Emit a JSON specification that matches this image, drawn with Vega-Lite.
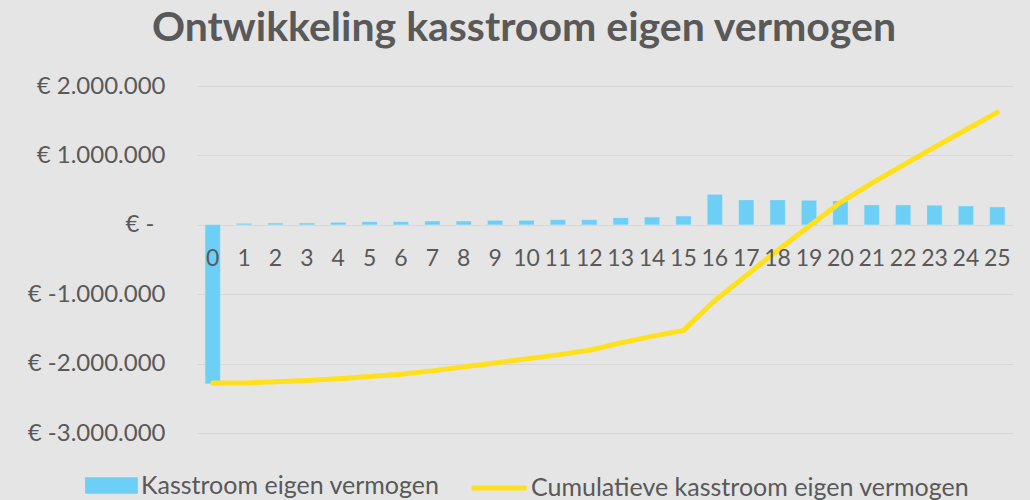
{
  "$schema": "https://vega.github.io/schema/vega-lite/v6.json",
  "autosize": "none",
  "width": 816,
  "height": 347,
  "padding": {"left": 197, "top": 86, "right": 17, "bottom": 67},
  "background": "#E5E5E5",
  "config": {
    "view": {"stroke": null},
    "font": "Lato"
  },
  "title": {
    "text": "Ontwikkeling kasstroom eigen vermogen",
    "font": "Lato",
    "fontSize": 41,
    "fontWeight": "bold",
    "color": "#595959",
    "anchor": "middle",
    "dx": -81,
    "offset": 24
  },
  "data": {
    "values": [
      {"jaar": 0, "kasstroom": -2290000, "cumulatief": -2280000},
      {"jaar": 1, "kasstroom": 19000, "cumulatief": -2278000},
      {"jaar": 2, "kasstroom": 24000, "cumulatief": -2263000},
      {"jaar": 3, "kasstroom": 24000, "cumulatief": -2245000},
      {"jaar": 4, "kasstroom": 34000, "cumulatief": -2220000},
      {"jaar": 5, "kasstroom": 43000, "cumulatief": -2187000},
      {"jaar": 6, "kasstroom": 43000, "cumulatief": -2154000},
      {"jaar": 7, "kasstroom": 53000, "cumulatief": -2105000},
      {"jaar": 8, "kasstroom": 53000, "cumulatief": -2047000},
      {"jaar": 9, "kasstroom": 62000, "cumulatief": -1990000},
      {"jaar": 10, "kasstroom": 63000, "cumulatief": -1932000},
      {"jaar": 11, "kasstroom": 72000, "cumulatief": -1874000},
      {"jaar": 12, "kasstroom": 72000, "cumulatief": -1808000},
      {"jaar": 13, "kasstroom": 100000, "cumulatief": -1702000},
      {"jaar": 14, "kasstroom": 110000, "cumulatief": -1607000},
      {"jaar": 15, "kasstroom": 125000, "cumulatief": -1521000},
      {"jaar": 16, "kasstroom": 435000, "cumulatief": -1090000},
      {"jaar": 17, "kasstroom": 357000, "cumulatief": -730000},
      {"jaar": 18, "kasstroom": 357000, "cumulatief": -370000},
      {"jaar": 19, "kasstroom": 352000, "cumulatief": -20000},
      {"jaar": 20, "kasstroom": 343000, "cumulatief": 320000},
      {"jaar": 21, "kasstroom": 285000, "cumulatief": 600000},
      {"jaar": 22, "kasstroom": 285000, "cumulatief": 860000},
      {"jaar": 23, "kasstroom": 280000, "cumulatief": 1120000},
      {"jaar": 24, "kasstroom": 270000, "cumulatief": 1370000},
      {"jaar": 25, "kasstroom": 256000, "cumulatief": 1620000}
    ]
  },
  "encoding": {
    "x": {
      "field": "jaar",
      "type": "ordinal",
      "scale": {"paddingInner": 0.52, "paddingOuter": 0.26},
      "axis": {
        "title": null,
        "orient": "bottom",
        "offset": -208,
        "zindex": 1,
        "domain": false,
        "ticks": false,
        "labelAngle": 0,
        "labelFont": "Lato",
        "labelFontSize": 23,
        "labelColor": "#595959",
        "labelPadding": 22,
        "grid": false
      }
    }
  },
  "layer": [
    {
      "mark": {"type": "bar", "stroke": "#C9E6F2", "strokeWidth": 0.5, "strokeOpacity": 0.6},
      "encoding": {
        "y": {
          "field": "kasstroom",
          "type": "quantitative",
          "scale": {"domain": [-3000000, 2000000], "nice": false, "zero": false},
          "axis": {
            "title": null,
            "values": [-3000000, -2000000, -1000000, 0, 1000000, 2000000],
            "domain": false,
            "ticks": false,
            "grid": true,
            "gridColor": "#D8D8D8",
            "gridWidth": 1.2,
            "labelFont": "Lato",
            "labelFontSize": 24,
            "labelColor": "#595959",
            "labelPadding": {"condition": {"test": "datum.value === 0", "value": 43}, "value": 32},
            "labelExpr": "datum.value === 0 ? '€ -' : '€ ' + (datum.value < 0 ? '-' : '') + format(abs(datum.value) / 1000000, 'd') + '.000.000'"
          }
        },
        "fill": {
          "datum": "Kasstroom eigen vermogen",
          "scale": {"domain": ["Kasstroom eigen vermogen"], "range": ["#6DCFF6"]},
          "legend": {
            "title": null,
            "orient": "none",
            "legendX": -113,
            "legendY": 372,
            "direction": "horizontal",
            "symbolType": "M-0.96,-0.3H0.96V0.3H-0.96Z",
            "symbolSize": 3025,
            "symbolStrokeWidth": 0,
            "labelFont": "Lato",
            "labelFontSize": 25,
            "labelColor": "#595959",
            "labelOffset": 2,
            "labelLimit": 0
          }
        }
      }
    },
    {
      "mark": {"type": "line", "strokeWidth": 5, "strokeCap": "round", "strokeJoin": "round"},
      "encoding": {
        "y": {"field": "cumulatief", "type": "quantitative"},
        "stroke": {
          "datum": "Cumulatieve kasstroom eigen vermogen",
          "scale": {"domain": ["Cumulatieve kasstroom eigen vermogen"], "range": ["#FFE01B"]},
          "legend": {
            "title": null,
            "orient": "none",
            "legendX": 272,
            "legendY": 372,
            "direction": "horizontal",
            "symbolType": "stroke",
            "symbolSize": 3025,
            "symbolStrokeWidth": 5,
            "labelFont": "Lato",
            "labelFontSize": 25,
            "labelColor": "#595959",
            "labelOffset": 2,
            "labelLimit": 0
          }
        }
      }
    }
  ]
}
